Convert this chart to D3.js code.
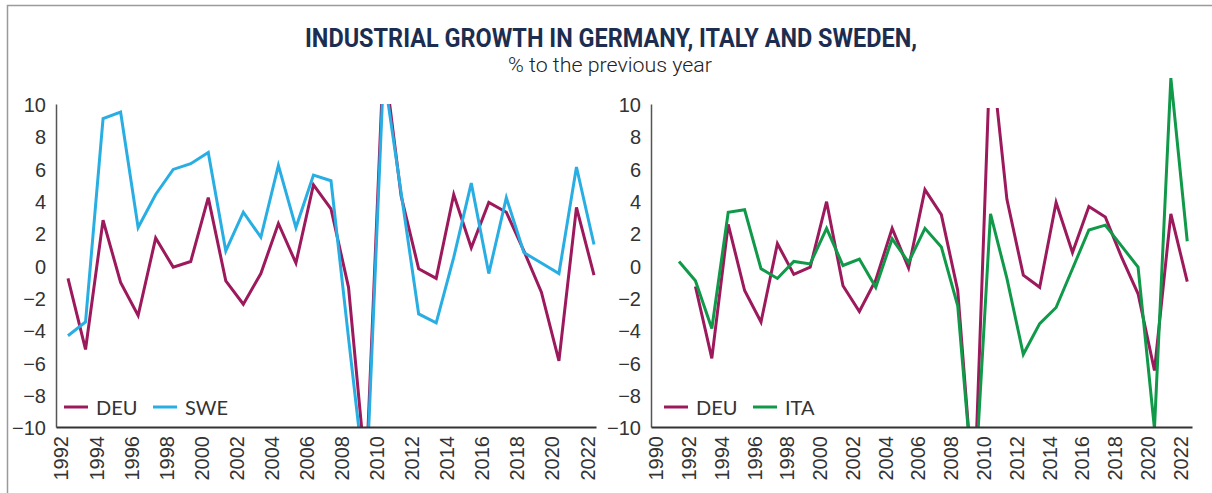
<!DOCTYPE html>
<html>
<head>
<meta charset="utf-8">
<script src="https://cdnjs.cloudflare.com/ajax/libs/d3/7.8.5/d3.min.js"></script>
<style>
  body { margin: 0; background: #fff; }
  svg { display: block; font-family: Lato, "Open Sans", sans-serif; }
</style>
</head>
<body>
<svg id="chart" width="1212" height="493"></svg>
<script>
// years on each panel
const yearsLeft = [1992, 1993, 1994, 1995, 1996, 1997, 1998, 1999, 2000, 2001, 2002,
  2003, 2004, 2005, 2006, 2007, 2008, 2009, 2010, 2011, 2012, 2013, 2014, 2015,
  2016, 2017, 2018, 2019, 2020, 2021, 2022]
const yearsRight = [1991, 1992, 1993, 1994, 1995, 1996, 1997, 1998, 1999, 2000, 2001,
  2002, 2003, 2004, 2005, 2006, 2007, 2008, 2009, 2010, 2011, 2012, 2013, 2014,
  2015, 2016, 2017, 2018, 2019, 2020, 2021, 2022]

// % to the previous year
const deuLeft = [-0.8, -5.2, 2.8, -1.05, -3.1, 1.7, -0.1, 0.25, 4.2, -0.95, -2.4,
  -0.5, 2.6, 0.15, 5.0, 3.5, -1.35, -13, 13, 4.3, -0.2, -0.8, 4.4, 1.1,
  3.9, 3.3, 0.9, -1.65, -5.9, 3.6, -0.6]
const swe = [-4.35, -3.5, 9.1, 9.5, 2.35, 4.4, 5.95, 6.3, 7.0, 0.9, 3.3,
  1.75, 6.2, 2.35, 5.6, 5.25, -4.5, -14, 12, 4.5, -3.0, -3.55, 0.5, 5.1,
  -0.5, 4.2, 0.8, 0.15, -0.5, 6.1, 1.3]
const deuRight = [null, -1.3, -5.75, 2.55, -1.55, -3.5, 1.35, -0.55, -0.1, 3.95, -1.25,
  -2.85, -0.9, 2.3, -0.15, 4.7, 3.15, -1.55, -14.6, 13.7, 4.1, -0.6, -1.35, 3.9,
  0.8, 3.65, 3.0, 0.5, -1.75, -6.5, 3.2, -1.0]
const ita = [0.25, -0.95, -3.9, 3.3, 3.45, -0.2, -0.8, 0.25, 0.1, 2.3, 0.0,
  0.4, -1.35, 1.65, 0.2, 2.3, 1.15, -2.5, -14.5, 3.2, -0.8, -5.5, -3.6, -2.6,
  -0.2, 2.2, 2.5, 1.2, -0.1, -10.1, 11.6, 1.5]

// tick labels
const yTicks = [-10, -8, -6, -4, -2, 0, 2, 4, 6, 8, 10]
const xTicksLeft = [1992, 1994, 1996, 1998, 2000, 2002, 2004, 2006, 2008, 2010,
  2012, 2014, 2016, 2018, 2020, 2022]
const xTicksRight = [1990, 1992, 1994, 1996, 1998, 2000, 2002, 2004, 2006, 2008,
  2010, 2012, 2014, 2016, 2018, 2020, 2022]

const colDEU = '#9c1a5c'
const colSWE = '#29aee3'
const colITA = '#11994a'

const svg = d3.select('#chart')

// outer frame
svg.append('rect')
    .attr('x', 7.5).attr('y', 5.5)
    .attr('width', 1400).attr('height', 600)
    .attr('fill', 'none')
    .attr('stroke', '#9a9a9a')
    .attr('stroke-width', 1.5)

svg.append('text')
    .attr('x', 611).attr('y', 47)
    .attr('text-anchor', 'middle')
    .attr('textLength', 612)
    .attr('lengthAdjust', 'spacingAndGlyphs')
    .style('font-family', 'Roboto, sans-serif')
    .style('font-weight', 700)
    .style('font-size', '26px')
    .attr('fill', '#1c2d4f')
    .text('INDUSTRIAL GROWTH IN GERMANY, ITALY AND SWEDEN,')

svg.append('text')
    .attr('x', 610).attr('y', 72)
    .attr('text-anchor', 'middle')
    .attr('textLength', 204)
    .attr('lengthAdjust', 'spacingAndGlyphs')
    .style('font-family', 'Roboto, sans-serif')
    .style('font-weight', 300)
    .style('font-size', '21px')
    .attr('fill', '#222')
    .text('% to the previous year')

const y = d3.scaleLinear().domain([-10, 10]).range([427, 104])

drawPanel({
    id: 'left',
    years: yearsLeft,
    xDomain: [1991.316, 2022.114],
    xRange: [56, 596],
    ticks: xTicksLeft,
    series: [
        {name: 'DEU', values: deuLeft, color: colDEU, top: 10},
        {name: 'SWE', values: swe, color: colSWE, top: 10}
    ],
    legendX: [64, 153]
})

drawPanel({
    id: 'right',
    years: yearsRight,
    xDomain: [1989.29, 2022.29],
    xRange: [651, 1192],
    ticks: xTicksRight,
    series: [
        {name: 'DEU', values: deuRight, color: colDEU, top: 9.75},
        {name: 'ITA', values: ita, color: colITA, top: null}
    ],
    legendX: [664, 753]
})

function drawPanel(cfg) {
    const x = d3.scaleLinear().domain(cfg.xDomain).range(cfg.xRange)
    const g = svg.append('g').attr('class', 'panel-' + cfg.id)

    // y axis
    const yAxis = g.append('g')
        .attr('transform', 'translate(' + cfg.xRange[0] + ',0)')
        .call(d3.axisLeft(y).tickValues(yTicks).tickSize(0).tickSizeOuter(0).tickPadding(10))
    yAxis.select('.domain').attr('stroke', '#555').attr('stroke-width', 1.5)
    yAxis.selectAll('text')
        .style('font-size', '20px')
        .attr('fill', '#333')
        .attr('dy', '0.38em')

    // lines, each clipped to the plot
    const line = d3.line()
        .defined(d => d.v != null)
        .x(d => x(d.year))
        .y(d => y(d.v))

    cfg.series.forEach((s, i) => {
        const clipId = 'clip-' + cfg.id + '-' + i
        const top = s.top == null ? 0 : y(s.top)
        svg.append('clipPath').attr('id', clipId)
            .append('rect')
            .attr('x', cfg.xRange[0]).attr('y', top)
            .attr('width', cfg.xRange[1] - cfg.xRange[0])
            .attr('height', y(-10) - top)
        const data = cfg.years.map((yr, j) => ({year: yr, v: s.values[j]}))
        g.append('path')
            .datum(data)
            .attr('clip-path', 'url(#' + clipId + ')')
            .attr('fill', 'none')
            .attr('stroke', s.color)
            .attr('stroke-width', 3)
            .attr('d', line)
    })

    // x axis
    const xAxis = g.append('g')
        .attr('transform', 'translate(0,' + y(-10) + ')')
        .call(d3.axisBottom(x).tickValues(cfg.ticks).tickFormat(d3.format('d')).tickSize(0).tickSizeOuter(0))
    xAxis.select('.domain').attr('stroke', '#333').attr('stroke-width', 2)
    xAxis.selectAll('text')
        .style('font-size', '20px')
        .attr('fill', '#333')
        .attr('text-anchor', 'end')
        .attr('transform', 'rotate(-90)')
        .attr('x', -9)
        .attr('y', -7)
        .attr('dy', '0.35em')

    // legend
    cfg.series.forEach((s, i) => {
        const lx = cfg.legendX[i]
        g.append('line')
            .attr('x1', lx).attr('x2', lx + 24)
            .attr('y1', 407).attr('y2', 407)
            .attr('stroke', s.color)
            .attr('stroke-width', 3)
        g.append('text')
            .attr('x', lx + 32).attr('y', 415)
            .style('font-size', '20px')
            .attr('fill', '#333')
            .text(s.name)
    })
}
</script>
</body>
</html>
